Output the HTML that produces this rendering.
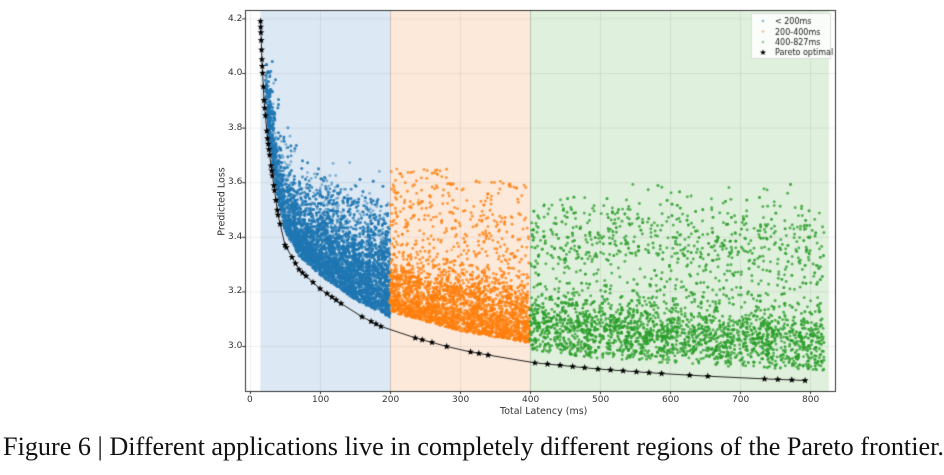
<!DOCTYPE html>
<html><head><meta charset="utf-8"><style>
body{margin:0;width:944px;height:475px;background:#fff;overflow:hidden;position:relative;font-family:"DejaVu Sans","Liberation Sans",sans-serif}
canvas{position:absolute;left:0;top:0}
.t{position:absolute;font-size:9px;color:#333}
#cap{position:absolute;left:3px;top:432px;font-family:"Liberation Serif",serif;font-size:26.2px;color:#111;white-space:nowrap}
</style></head><body>
<canvas id="c" width="944" height="410"></canvas>
<div class="t" style="left:228px;top:14px">4.2</div>
<div class="t" style="left:228px;top:68px">4.0</div>
<div class="t" style="left:228px;top:123px">3.8</div>
<div class="t" style="left:228px;top:177px">3.6</div>
<div class="t" style="left:228px;top:232px">3.4</div>
<div class="t" style="left:228px;top:286px">3.2</div>
<div class="t" style="left:228px;top:341px">3.0</div>
<div class="t" style="left:247px;top:395px">0</div>
<div class="t" style="left:312px;top:395px">100</div>
<div class="t" style="left:382px;top:395px">200</div>
<div class="t" style="left:452px;top:395px">300</div>
<div class="t" style="left:522px;top:395px">400</div>
<div class="t" style="left:592px;top:395px">500</div>
<div class="t" style="left:662px;top:395px">600</div>
<div class="t" style="left:732px;top:395px">700</div>
<div class="t" style="left:802px;top:395px">800</div>
<div class="t" style="left:500px;top:406px;font-size:9.5px">Total Latency (ms)</div>
<div class="t" style="left:188px;top:196px;font-size:9.5px;transform:rotate(-90deg);white-space:nowrap">Predicted Loss</div>
<div id="cap">Figure 6 | Different applications live in completely different regions of the Pareto frontier.</div>
<script>
var c=document.getElementById('c').getContext('2d');
function X(l){return 250+0.7*l}
function Y(v){return 346-(v-3.0)*273}
var T=[[15,4.19],[17,4.05],[20,3.9],[25,3.76],[30,3.66],[40,3.48],[50,3.37],[70,3.28],[100,3.21],[150,3.12],[200,3.055],[300,2.985],[400,2.94],[500,2.915],[600,2.897],[700,2.883],[800,2.873],[830,2.87]];
function f(l){for(var i=1;i<T.length;i++){if(l<=T[i][0]){var a=T[i-1],b=T[i];return a[1]+(b[1]-a[1])*(l-a[0])/(b[0]-a[0]);}}return 2.87}
var s=12345;function r(){s=(s*1103515245+12345)%2147483648;return s/2147483648}
function g(){return Math.sqrt(-2*Math.log(r()+1e-9))*Math.cos(6.2832*r())}
c.fillStyle='#fff';c.fillRect(0,0,944,410);
c.fillStyle='#dce8f3';c.fillRect(X(15),10,X(200)-X(15),381);
c.fillStyle='#fde9da';c.fillRect(X(200),10,140,381);
c.fillStyle='#dff0dc';c.fillRect(X(400),10,X(827)-X(400),381);
c.strokeStyle='rgba(0,0,0,0.06)';c.lineWidth=1;
[4.2,4.0,3.8,3.6,3.4,3.2,3.0].forEach(function(v){c.beginPath();c.moveTo(245,Y(v)+.5);c.lineTo(835,Y(v)+.5);c.stroke()});
for(var k=0;k<=800;k+=100){c.beginPath();c.moveTo(X(k)+.5,10);c.lineTo(X(k)+.5,391);c.stroke()}
c.strokeStyle='rgba(0,0,0,0.12)';[200,400].forEach(function(k){c.beginPath();c.moveTo(X(k)+.5,10);c.lineTo(X(k)+.5,391);c.stroke()});
function dot(l,v,col){c.fillStyle=col;c.beginPath();c.arc(X(l),Y(v),1.4,0,6.3);c.fill()}
var B='rgba(31,119,180,0.5)',O='rgba(255,127,14,0.5)',G='rgba(44,160,44,0.5)';
for(var i=0;i<9000;i++){var l=22+178*Math.pow(r(),0.9);var base=f(l);var v;
 if(r()<0.95)v=base+0.05+Math.abs(g())*(0.09+0.0004*l);else v=base+0.15+r()*0.3;
 if(v>4.05||v>3.68&&l>70)continue;dot(l,v,B)}
for(var i=0;i<5500;i++){var l=200+200*r();var v;var p=r();
 if(p<0.75)v=f(l)+0.07+Math.abs(g())*0.09;else v=f(l)+0.2+Math.pow(r(),1.8)*0.45;
 if(v>3.65)continue;dot(l,v,O)}
for(var i=0;i<6000;i++){var l=400+420*r();var v;var p=r();
 if(p<0.68)v=3.08-0.00018*(l-400)+g()*0.065;else if(p<0.86)v=3.37+g()*0.09;else v=2.97+r()*0.55;
 if(v<f(l)+0.04)v=f(l)+0.04+r()*0.05;if(v>3.6)continue;dot(l,v,G)}
var P=[15,15.3,15.6,16,16.5,17,17.5,18,19,20,21,22,24,25,26,27,28,30,31,32,34,35,37,39,40,43,50,52,60,65,70,75,80,90,100,110,117,123,130,160,173,180,187,236,246,260,281,315,327,340,407,425,443,461,478,497,515,533,552,570,588,628,654,735,754,774,793];
c.strokeStyle='#222';c.lineWidth=1;c.beginPath();P.forEach(function(l,i){var x=X(l),y=Y(f(l));if(i)c.lineTo(x,y);else c.moveTo(x,y)});c.stroke();
function star(x,y,R){c.beginPath();for(var i=0;i<10;i++){var a=-Math.PI/2+i*Math.PI/5,rr=i%2?R*0.42:R;c.lineTo(x+rr*Math.cos(a),y+rr*Math.sin(a))}c.closePath();c.fill()}
c.fillStyle='#000';P.forEach(function(l){star(X(l),Y(f(l)),3.6)});
c.strokeStyle='#333';c.lineWidth=1;c.strokeRect(245.5,10.5,590,381);
c.beginPath();[4.2,4.0,3.8,3.6,3.4,3.2,3.0].forEach(function(v){c.moveTo(242,Y(v)+.5);c.lineTo(245,Y(v)+.5)});
for(var k=0;k<=800;k+=100){c.moveTo(X(k)+.5,391);c.lineTo(X(k)+.5,394)}c.stroke();
c.fillStyle='rgba(255,255,255,0.85)';c.strokeStyle='#ddd';c.fillRect(751,13,79,45);c.strokeRect(751.5,13.5,79,45);
c.font='8px "DejaVu Sans",sans-serif';c.fillStyle='#222';
var L=[['< 200ms',B],['200-400ms',O],['400-827ms',G]];
L.forEach(function(e,i){c.fillStyle=e[1];c.beginPath();c.arc(763,21+i*10.5,1.3,0,6.3);c.fill();c.fillStyle='#222';c.fillText(e[0],775,24+i*10.5)});
c.fillStyle='#000';star(763,52.5,3.2);c.fillStyle='#222';c.fillText('Pareto optimal',775,55);
</script>
</body></html>
